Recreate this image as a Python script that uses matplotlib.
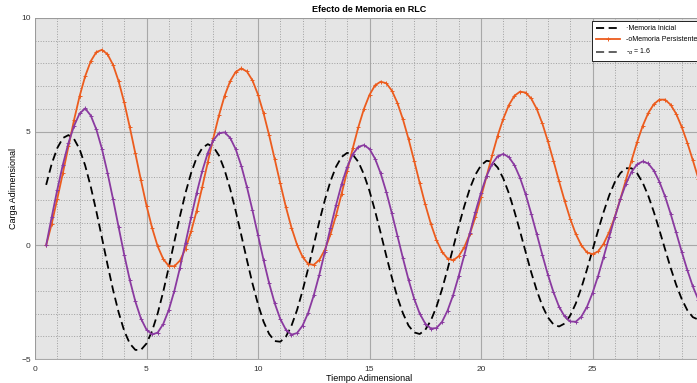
import numpy as np
import matplotlib
matplotlib.use("Agg")
import matplotlib.pyplot as plt
from matplotlib.lines import Line2D
from matplotlib.ticker import MultipleLocator

plt.rcParams['font.family'] = ['Liberation Sans', 'DejaVu Sans']

# values, one every 0.25 time units starting at t = 0.5
carga_inicial = [
    2.66, 3.59, 4.28, 4.72, 4.85, 4.68, 4.23, 3.51,
    2.58, 1.50, 0.34, -0.84, -1.96, -2.95, -3.76, -4.32,
    -4.60, -4.60, -4.32, -3.77, -3.00, -2.04, -0.96, 0.17,
    1.28, 2.31, 3.18, 3.86, 4.28, 4.45, 4.33, 3.95,
    3.32, 2.49, 1.51, 0.45, -0.63, -1.67, -2.59, -3.36,
    -3.90, -4.21, -4.24, -4.02, -3.54, -2.85, -1.99, -1.02,
    0.02, 1.05, 2.00, 2.82, 3.46, 3.89, 4.07, 3.99,
    3.67, 3.12, 2.39, 1.51, 0.55, -0.45, -1.41, -2.28,
    -2.99, -3.53, -3.83, -3.90, -3.72, -3.31, -2.71, -1.94,
    -1.05, -0.11, 0.84, 1.72, 2.50, 3.11, 3.52, 3.72,
    3.68, 3.42, 2.94, 2.29, 1.49, 0.62, -0.29, -1.18,
    -1.98, -2.66, -3.17, -3.48, -3.57, -3.44, -3.09, -2.56,
    -1.87, -1.07, -0.21, 0.65, 1.47, 2.20, 2.78, 3.18,
    3.39, 3.39, 3.17, 2.76, 2.18, 1.47, 0.67, -0.16,
    -0.98, -1.73, -2.36, -2.85, -3.16, -3.27,
]
carga_persistente = [
    0.00, 0.95, 2.05, 3.18, 4.35, 5.51, 6.56, 7.44,
    8.10, 8.50, 8.60, 8.41, 7.94, 7.22, 6.29, 5.20,
    4.04, 2.87, 1.75, 0.77, -0.04, -0.60, -0.91, -0.92,
    -0.67, -0.15, 0.61, 1.52, 2.57, 3.66, 4.73, 5.72,
    6.57, 7.22, 7.63, 7.78, 7.65, 7.26, 6.63, 5.81,
    4.84, 3.79, 2.72, 1.69, 0.78, 0.03, -0.51, -0.82,
    -0.86, -0.64, -0.19, 0.48, 1.32, 2.27, 3.27, 4.27,
    5.20, 6.00, 6.62, 7.04, 7.20, 7.13, 6.81, 6.27,
    5.54, 4.68, 3.73, 2.75, 1.80, 0.95, 0.24, -0.28,
    -0.58, -0.66, -0.48, -0.08, 0.50, 1.25, 2.12, 3.04,
    3.96, 4.83, 5.57, 6.17, 6.58, 6.76, 6.72, 6.46,
    6.00, 5.36, 4.58, 3.72, 2.82, 1.96, 1.17, 0.50,
    0.00, -0.31, -0.39, -0.27, 0.07, 0.59, 1.25, 2.04,
    2.88, 3.73, 4.54, 5.25, 5.82, 6.21, 6.41, 6.41,
    6.19, 5.79, 5.21, 4.52, 3.74, 2.93,
]
carga_alpha = [
    0.00, 1.25, 2.45, 3.55, 4.50, 5.25, 5.80, 6.02,
    5.71, 5.10, 4.25, 3.20, 2.03, 0.80, -0.41, -1.52,
    -2.47, -3.22, -3.71, -3.92, -3.84, -3.46, -2.84, -2.00,
    -0.99, 0.11, 1.23, 2.30, 3.27, 4.07, 4.63, 4.93,
    4.97, 4.73, 4.23, 3.50, 2.58, 1.55, 0.45, -0.65,
    -1.67, -2.55, -3.24, -3.71, -3.93, -3.86, -3.53, -2.97,
    -2.20, -1.29, -0.28, 0.77, 1.77, 2.69, 3.45, 4.01,
    4.33, 4.41, 4.24, 3.81, 3.17, 2.36, 1.42, 0.43,
    -0.57, -1.51, -2.34, -3.00, -3.44, -3.66, -3.64, -3.37,
    -2.87, -2.19, -1.35, -0.43, 0.53, 1.47, 2.32, 3.05,
    3.59, 3.92, 4.02, 3.88, 3.53, 2.97, 2.25, 1.40,
    0.50, -0.42, -1.29, -2.06, -2.70, -3.13, -3.35, -3.36,
    -3.14, -2.71, -2.10, -1.35, -0.51, 0.37, 1.23, 2.03,
    2.71, 3.23, 3.56, 3.69, 3.60, 3.29, 2.80, 2.16,
    1.40, 0.57, -0.28, -1.08, -1.81, -2.40,
]
t = 0.5 + 0.25 * np.arange(len(carga_inicial))

x_ticks = [0, 5, 10, 15, 20, 25]
y_ticks = [-5, 0, 5, 10]

fig = plt.figure(figsize=(6.97, 3.83), dpi=100)
ax = fig.add_axes([35/697, 24/383, 669/697, 341/383])
ax.set_facecolor('#e5e5e5')

l1, = ax.plot(t, carga_inicial, '--', color='black', lw=1.3, dashes=(4.5, 2.5))
l2, = ax.plot(t, carga_persistente, '-', color='#ec5c1e', lw=1.3,
              marker='+', ms=2.8, mew=0.7)
ax.plot(t, carga_alpha, '-', color='#8a3aa0', lw=1.3, marker='+', ms=2.8, mew=0.7)
l3 = Line2D([], [], ls='--', color='#555555', lw=1.3, dashes=(4.5, 2.5))

ax.set_xlim(0, 30)
ax.set_ylim(-5, 10)
ax.set_xticks(x_ticks)
ax.set_yticks(y_ticks)
ax.xaxis.set_minor_locator(MultipleLocator(1))
ax.yaxis.set_minor_locator(MultipleLocator(1))
ax.grid(which='major', color='#a8a8a8', lw=0.8)
ax.grid(which='minor', color='#a0a0a0', ls=':', lw=0.7)
ax.set_axisbelow(True)
ax.tick_params(which='both', length=0, labelsize=6, labelcolor='#333333')
ax.tick_params(axis='y', pad=3)
ax.tick_params(axis='x', pad=5)
for s in ax.spines.values():
    s.set_color('#999999')
    s.set_linewidth(0.6)

ax.set_title('Efecto de Memoria en RLC', fontsize=6.5, fontweight='bold', pad=4)
ax.set_xlabel('Tiempo Adimensional', fontsize=6.5, labelpad=1)
ax.set_ylabel('Carga Adimensional', fontsize=6.5, labelpad=2)

leg = ax.legend([l1, l2, l3],
                ['·Memoria Inicial', '-oMemoria Persistente', '-$_{\\alpha}$ = 1.6'],
                loc='upper right', fontsize=5, fancybox=False, framealpha=1,
                edgecolor='black', handlelength=3.5, borderpad=0.5, labelspacing=0.6)
leg.get_frame().set_linewidth(0.6)

fig.savefig('out.png', dpi=100)
